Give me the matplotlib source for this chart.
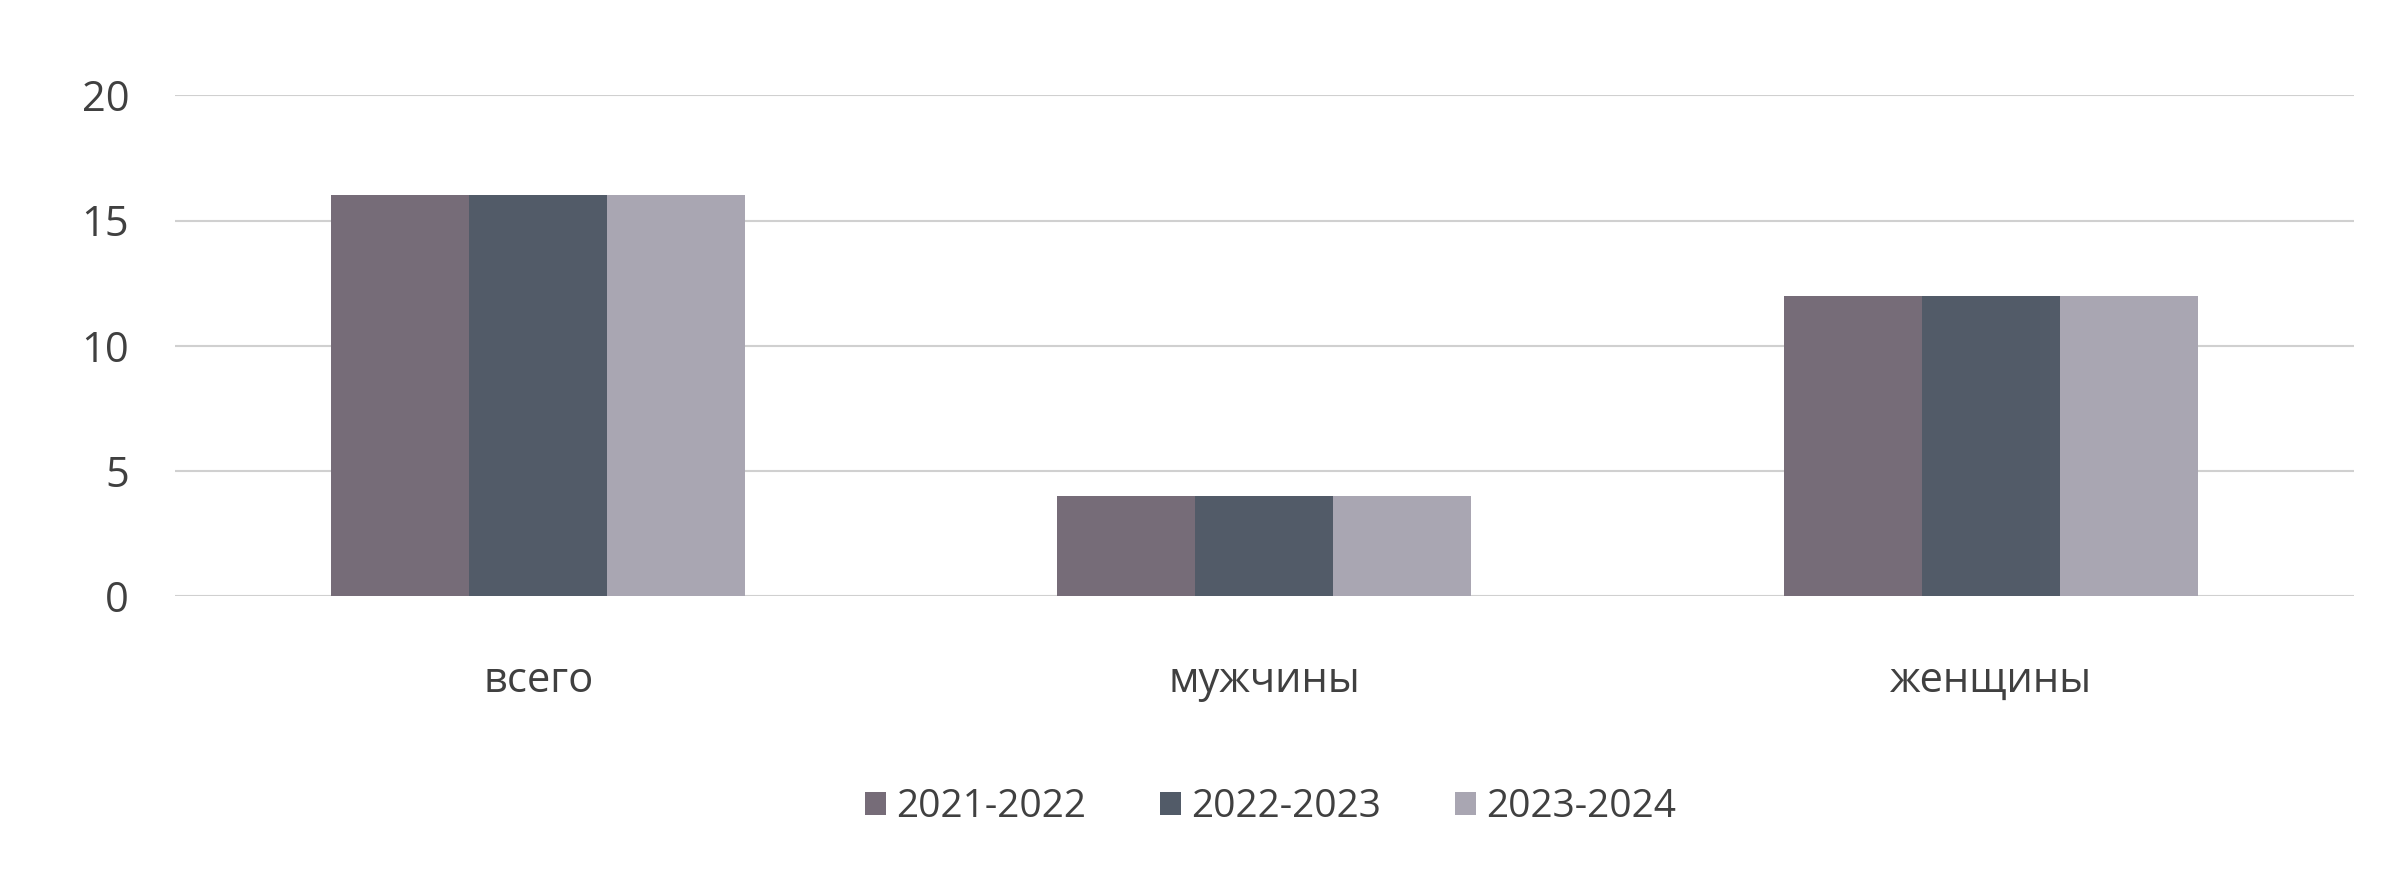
import numpy as np
import matplotlib
matplotlib.use("Agg")
import matplotlib.pyplot as plt

categories = ["всего", "мужчины", "женщины"]
series_names = ["2021-2022", "2022-2023", "2023-2024"]
v_2021 = [16, 4, 12]
v_2022 = [16, 4, 12]
v_2023 = [16, 4, 12]
colors = ["#766c78", "#525b68", "#a9a6b2"]

plt.rcParams["font.family"] = ["Open Sans", "DejaVu Sans"]

fig = plt.figure(figsize=(23.97, 8.82), dpi=100)
ax = fig.add_axes([0.073, 0.324, 0.909, 0.568])

x = np.arange(len(categories))
w = 0.19
for i, (vals, name) in enumerate(zip([v_2021, v_2022, v_2023], series_names)):
    ax.bar(x + (i - 1) * w, vals, width=w, color=colors[i], label=name, zorder=3)

ax.set_xlim(-0.5, 2.5)
ax.set_ylim(0, 20)
ax.set_yticks([0, 5, 10, 15, 20])
ax.yaxis.grid(True, color="#d0d0d0", linewidth=1.5, zorder=0)
for s in ax.spines.values():
    s.set_visible(False)
ax.tick_params(axis="both", length=0, labelsize=30, colors="#404040")
ax.tick_params(axis="y", pad=33)
ax.tick_params(axis="x", pad=46)
ax.set_xticks(x)
ax.set_xticklabels(categories)

fig.legend(loc="center", bbox_to_anchor=(0.53, 0.085), ncol=3, frameon=False,
           fontsize=28, handlelength=0.55, handleheight=0.55, handletextpad=0.25,
           columnspacing=1.9, labelcolor="#404040")

fig.savefig("out.png", dpi=100, facecolor="white")
